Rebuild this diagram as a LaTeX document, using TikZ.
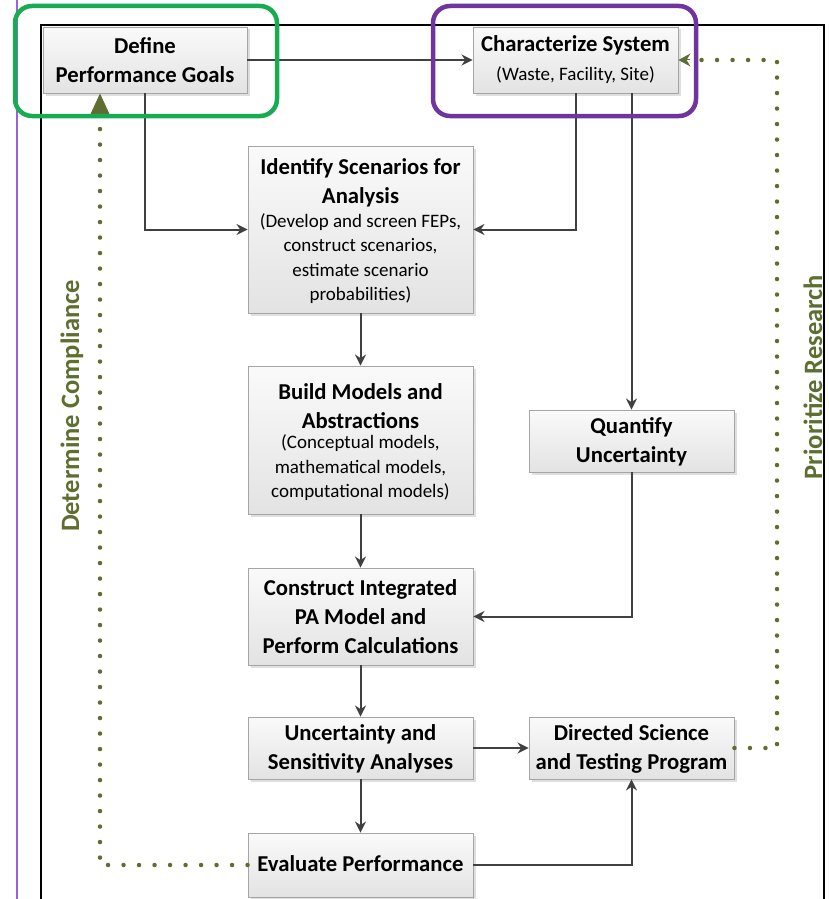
\documentclass[tikz,border=0pt]{standalone}
\usepackage{fontspec}
\setmainfont{Carlito}
\usetikzlibrary{arrows.meta,shadows,calc}
\definecolor{olivec}{RGB}{94,110,48}
\definecolor{boxedge}{RGB}{165,165,165}
\definecolor{linec}{RGB}{64,64,64}
\definecolor{greenc}{RGB}{24,172,82}
\definecolor{purplec}{RGB}{112,52,160}
\definecolor{violetl}{RGB}{150,100,215}
\tikzset{
  pbox/.style={draw=boxedge, line width=0.9pt, top color=black!2, bottom color=black!11,
    drop shadow={shadow xshift=2.5pt, shadow yshift=-2.5pt, opacity=0.25}, inner sep=0pt},
  hd/.style={font=\fontsize{22.7}{29}\selectfont\bfseries, align=center, inner sep=0pt, text=black},
  sb/.style={font=\fontsize{19}{24.5}\selectfont, align=center, inner sep=0pt, text=black},
  conn/.style={draw=linec, line width=2pt, -{Stealth[length=11pt,width=11pt]}},
  dotl/.style={draw=olivec, line width=4.5pt, line cap=round, dash pattern=on 0pt off 15.5pt},
  lbl/.style={font=\fontsize{26.5}{30}\selectfont\bfseries, text=olivec, rotate=90, inner sep=0pt},
  hl/.style={line width=4.5pt, rounded corners=17pt}
}
\begin{document}
\begin{tikzpicture}[x=1pt,y=-1pt]
\useasboundingbox (0,0) rectangle (829,899);
% frame
\draw[violetl, line width=1.5pt] (17,0) -- (17,899);
\draw[black, line width=2.5pt] (41,899) -- (41,25) -- (824,25) -- (824,899);
% boxes
\node[pbox, minimum width=204pt, minimum height=66pt] (def) at (145,60) {};
\node[pbox, minimum width=205pt, minimum height=66pt] (char) at (575.5,60) {};
\node[pbox, minimum width=225pt, minimum height=167pt] (iden) at (360.5,229.5) {};
\node[pbox, minimum width=225pt, minimum height=148pt] (build) at (360.5,440) {};
\node[pbox, minimum width=205pt, minimum height=62pt] (quant) at (631.5,441) {};
\node[pbox, minimum width=225pt, minimum height=97pt] (cons) at (360.5,616.5) {};
\node[pbox, minimum width=225pt, minimum height=62pt] (unc) at (360.5,748) {};
\node[pbox, minimum width=205pt, minimum height=62pt] (dir) at (631.5,748) {};
\node[pbox, minimum width=225pt, minimum height=64pt] (eval) at (360.5,865) {};
% texts
\node[hd] (tdef) at (145,60) {Define\\Performance Goals};
\node[hd] (tchar) at (575.5,45) {Characterize System};
\node[sb] (schar) at (575.5,75) {(Waste, Facility, Site)};
\node[hd] (tiden) at (360.5,182.5) {Identify Scenarios for\\Analysis};
\node[sb] (siden) at (360.5,258.5) {(Develop and screen FEPs,\\construct scenarios,\\estimate scenario\\probabilities)};
\node[hd] (tbuild) at (360.5,406) {Build Models and\\Abstractions};
\node[sb] (sbuild) at (360.5,468) {(Conceptual models,\\mathematical models,\\computational models)};
\node[hd] (tquant) at (631.5,441.5) {Quantify\\Uncertainty};
\node[hd] (tcons) at (360.5,616.5) {Construct Integrated\\PA Model and\\Perform Calculations};
\node[hd] (tunc) at (360.5,748.5) {Uncertainty and\\Sensitivity Analyses};
\node[hd] (tdir) at (631.5,748.5) {Directed Science\\and Testing Program};
\node[hd] (teval) at (360.5,864) {Evaluate Performance};
% connectors
\draw[conn] (def.east) -- (char.west);
\draw[conn] (def.south) |- (iden.west);
\draw[conn] (char.south) |- (iden.east);
\draw[conn] (quant.north |- char.south) -- (quant.north);
\draw[conn] (iden.south) -- (build.north);
\draw[conn] (build.south) -- (cons.north);
\draw[conn] (quant.south) |- (cons.east);
\draw[conn] (cons.south) -- (unc.north);
\draw[conn] (unc.east) -- (dir.west);
\draw[conn] (unc.south) -- (eval.north);
\draw[conn] (eval.east) -| (dir.south);
% dotted feedback
\coordinate (dl) at (100,865);
\coordinate (dlt) at (100,118);
\draw[dotl] (eval.west) -- (dl) -- (dlt);
\draw[olivec, line width=1pt, -{Triangle[length=22pt,width=20pt]}] (100,116) -- (def.south -| dlt);
\coordinate (dr) at (777,748);
\coordinate (drt) at (777,60);
\draw[dotl] (dir.east) -- (dr) -- (drt) -- ($(char.east)+(12,0)$);
\draw[olivec, line width=1pt, -{Stealth[length=12pt,width=13pt]}] ($(char.east)+(12,0)$) -- (char.east);
% labels
\node[lbl] (lc) at (72,406) {Determine Compliance};
\node[lbl] (lr) at (813,377) {Prioritize Research};
% highlight rectangles
\draw[hl, greenc] (15,6) rectangle (277,116);
\draw[hl, purplec] (433,6) rectangle (696,116);
\end{tikzpicture}
\end{document}
